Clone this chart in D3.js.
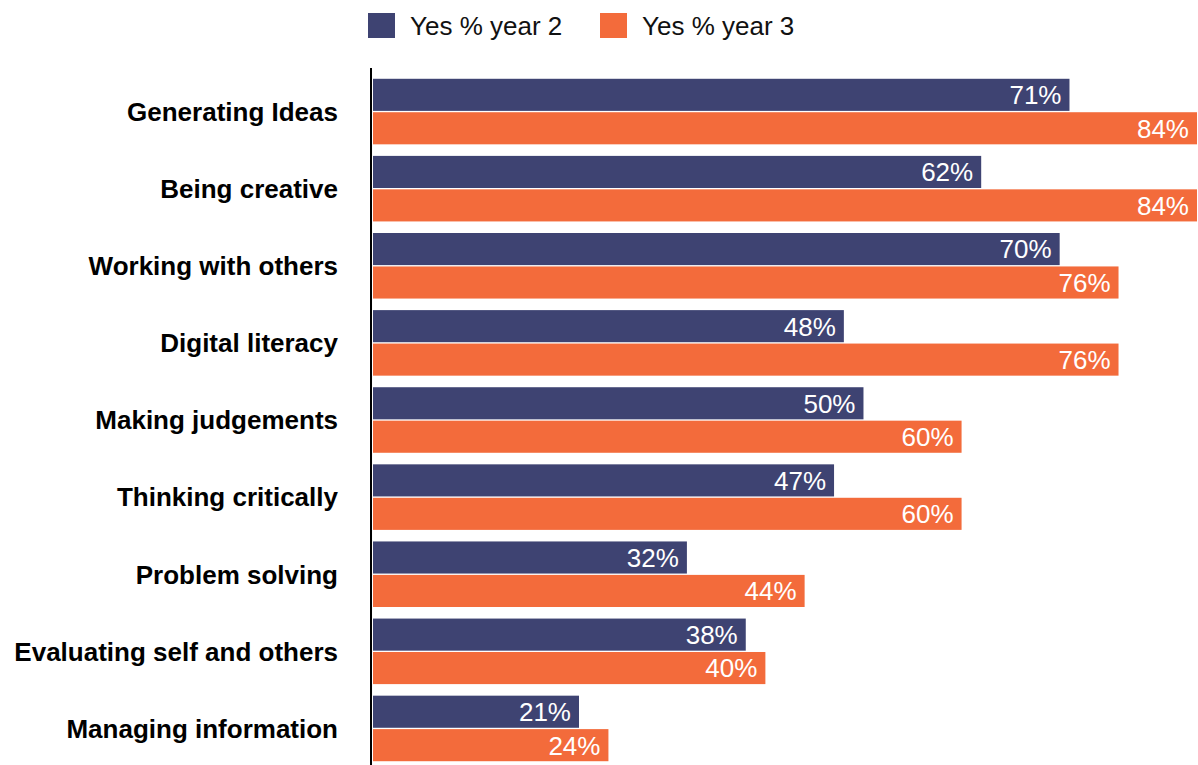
<!DOCTYPE html>
<html>
<head>
<meta charset="utf-8">
<script src="https://cdn.jsdelivr.net/npm/d3@7"></script>
<style>
  body { margin: 0; background: #fff; }
  svg { display: block; font-family: 'Liberation Sans', Arial, Helvetica, sans-serif; }
</style>
</head>
<body>
<svg id="chart" width="1198" height="765"></svg>
<script>
const categories = [
  'Generating Ideas',
  'Being creative',
  'Working with others',
  'Digital literacy',
  'Making judgements',
  'Thinking critically',
  'Problem solving',
  'Evaluating self and others',
  'Managing information',
]
const seriesNames = ['Yes % year 2', 'Yes % year 3']
const year2 = [71, 62, 70, 48, 50, 47, 32, 38, 21]
const year3 = [84, 84, 76, 76, 60, 60, 44, 40, 24]
const colors = ['#3e4372', '#f36b3b']

const rows = categories.map((c, i) => ({ cat: c, values: [year2[i], year3[i]] }))

const svg = d3.select('#chart')
const axisX = 371

const x = d3.scaleLinear().domain([0, 84]).range([axisX + 2, 1197])

const y = d3.scaleBand()
  .domain(categories)
  .range([73, 767])
  .paddingInner(0.15)
  .paddingOuter(0.075)

const ySub = d3.scaleBand()
  .domain([0, 1])
  .range([0, y.bandwidth()])
  .paddingInner(0.04)

const groups = svg.selectAll('g.row')
  .data(rows)
  .join('g')
  .attr('class', 'row')
  .attr('transform', (d) => `translate(0,${y(d.cat)})`)

groups.selectAll('rect')
  .data((d) => d.values)
  .join('rect')
  .attr('x', x(0))
  .attr('y', (d, i) => ySub(i))
  .attr('width', (d) => x(d) - x(0))
  .attr('height', ySub.bandwidth())
  .attr('fill', (d, i) => colors[i])

groups.selectAll('text.val')
  .data((d) => d.values)
  .join('text')
  .attr('class', 'val')
  .attr('x', (d) => x(d) - 8)
  .attr('y', (d, i) => ySub(i) + ySub.bandwidth() / 2)
  .attr('dy', '0.36em')
  .attr('text-anchor', 'end')
  .attr('fill', '#fff')
  .attr('font-size', 26)
  .text((d) => d + '%')

groups.append('text')
  .attr('x', 338)
  .attr('y', y.bandwidth() / 2)
  .attr('dy', '0.36em')
  .attr('text-anchor', 'end')
  .attr('font-weight', 'bold')
  .attr('font-size', 26)
  .attr('fill', '#000')
  .text((d) => d.cat)

// vertical axis line
svg.append('line')
  .attr('x1', axisX).attr('x2', axisX)
  .attr('y1', 68).attr('y2', 765)
  .attr('stroke', '#000')
  .attr('stroke-width', 2)

// legend
const legendX = [368, 600]
const legend = svg.selectAll('g.legend')
  .data(seriesNames)
  .join('g')
  .attr('class', 'legend')
  .attr('transform', (d, i) => `translate(${legendX[i]},13)`)

legend.append('rect')
  .attr('width', 27)
  .attr('height', 25)
  .attr('fill', (d, i) => colors[i])

legend.append('text')
  .attr('x', 42)
  .attr('y', 12.5)
  .attr('dy', '0.36em')
  .attr('font-size', 26)
  .attr('fill', '#111')
  .text((d) => d)
</script>
</body>
</html>
